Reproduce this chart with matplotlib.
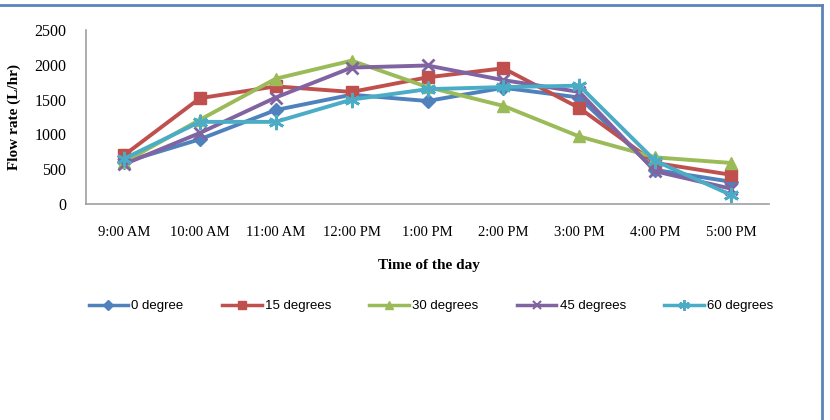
import matplotlib
matplotlib.use("Agg")
import matplotlib.pyplot as plt
from matplotlib.lines import Line2D

times = ["9:00 AM", "10:00 AM", "11:00 AM", "12:00 PM", "1:00 PM",
         "2:00 PM", "3:00 PM", "4:00 PM", "5:00 PM"]
deg0 = [600, 930, 1350, 1570, 1480, 1670, 1530, 490, 320]
deg15 = [700, 1520, 1690, 1610, 1820, 1950, 1380, 590, 420]
deg30 = [600, 1210, 1800, 2060, 1680, 1410, 970, 670, 590]
deg45 = [570, 1020, 1530, 1960, 1990, 1780, 1610, 470, 220]
deg60 = [650, 1180, 1180, 1500, 1650, 1680, 1700, 620, 130]

series = [
    ("0 degree", deg0, "#4F81BD", "D", 7),
    ("15 degrees", deg15, "#C0504D", "s", 8),
    ("30 degrees", deg30, "#9BBB59", "^", 9),
    ("45 degrees", deg45, "#8064A2", "x", 9),
    ("60 degrees", deg60, "#4BACC6", (6, 2, 0), 11),
]

serif = ["Liberation Serif", "DejaVu Serif"]
sans = ["Liberation Sans", "DejaVu Sans"]

fig = plt.figure(figsize=(8.3, 4.2), dpi=100)
ax = fig.add_axes([86 / 830, 1 - 204 / 420, (769 - 86) / 830, (204 - 30) / 420])

x = list(range(len(times)))
for name, vals, col, mk, ms in series:
    ax.plot(x, vals, color=col, lw=2.8, marker=mk, markersize=ms,
            markeredgewidth=2 if mk in ("x", (6, 2, 0)) else 1,
            markerfacecolor=col, markeredgecolor=col, label=name,
            solid_joinstyle="round")

ax.set_xlim(-0.5, len(times) - 0.5)
ax.set_ylim(0, 2500)
ax.set_yticks([0, 500, 1000, 1500, 2000, 2500])
ax.set_xticks(x)
ax.set_xticklabels(times, family=serif, fontsize=10.5)
for t in ax.get_yticklabels():
    t.set_family(serif)
    t.set_fontsize(11.5)
ax.tick_params(axis="both", length=0, pad=14)
ax.tick_params(axis="x", pad=16)
for s in ("top", "right"):
    ax.spines[s].set_visible(False)
for s in ("left", "bottom"):
    ax.spines[s].set_color("#a0a0a0")
    ax.spines[s].set_linewidth(1.2)

fig.text(429 / 830, 1 - 265 / 420, "Time of the day", ha="center", va="center",
         family=serif, fontsize=11, fontweight="bold")
fig.text(14 / 830, 1 - 117 / 420, "Flow rate (L/hr)", ha="center", va="center",
         rotation=90, family=serif, fontsize=11, fontweight="bold")

handles = [Line2D([], [], color=col, lw=2.5, marker=mk, markersize=ms * 0.7,
                  markerfacecolor=col, markeredgecolor=col,
                  markeredgewidth=1.5 if mk in ("x", (6, 2, 0)) else 1)
           for name, vals, col, mk, ms in series]
fig.legend(handles, [s[0] for s in series], loc="center",
           bbox_to_anchor=(431 / 830, 1 - 306 / 420), ncol=5, frameon=False,
           prop={"family": sans, "size": 9.5}, handlelength=3.0,
           handletextpad=0.25, columnspacing=2.9)

# outer frame (top and right edges)
fig.add_artist(Line2D([0, 822 / 830], [1 - 5 / 420, 1 - 5 / 420],
                      transform=fig.transFigure, color="#5B84BA", lw=2))
fig.add_artist(Line2D([822 / 830, 822 / 830], [1 - 5 / 420, 0],
                      transform=fig.transFigure, color="#5B84BA", lw=2))

fig.savefig("out.png", dpi=100, facecolor="white")
